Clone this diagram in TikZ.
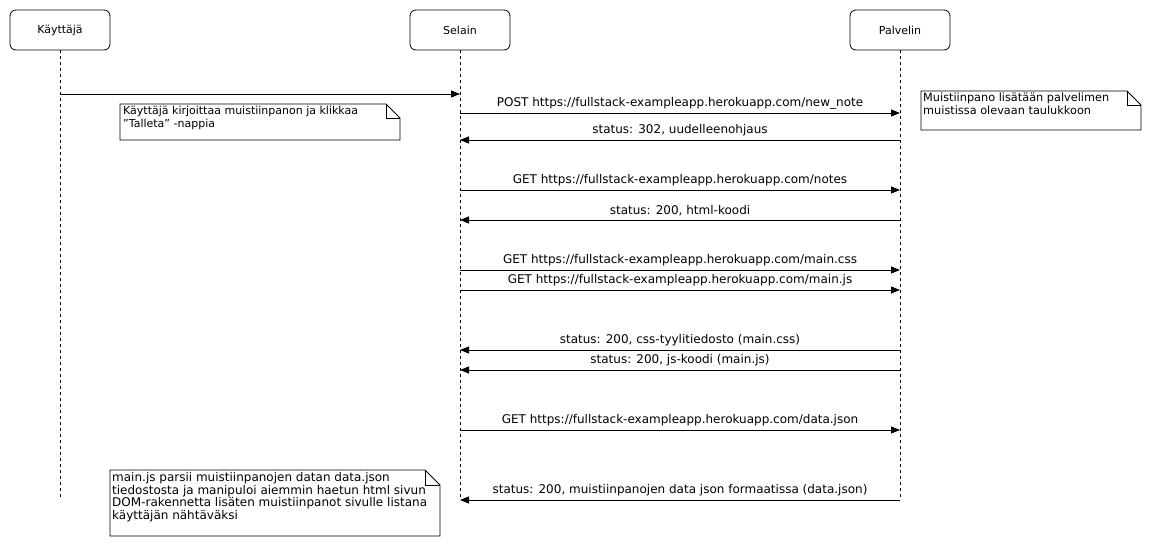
\documentclass[tikz,border=0pt]{standalone}
\usepackage{fontspec}
\setmainfont{DejaVu Sans}
\usetikzlibrary{arrows.meta}
\begin{document}
\begin{tikzpicture}[x=1pt,y=-1pt,
  txt/.style={font=\fontsize{12}{13}\selectfont},
  actor/.style={draw, rounded corners=6pt, minimum width=100pt, minimum height=40pt, line width=0.8pt, font=\fontsize{11}{13}\selectfont},
  lifeline/.style={line width=0.8pt, dash pattern=on 3pt off 3pt},
  msg/.style={line width=0.8pt, -{Triangle[length=9pt,width=7pt]}},
  lbl/.style={txt, anchor=south, inner sep=0pt, yshift=3.5pt},
  notebox/.style={draw, line width=0.8pt, fill=white},
  notetext/.style={align=left, anchor=north west, inner sep=0pt}
]
\useasboundingbox (0,0) rectangle (1151,546);

% actors
\node[actor] (kay) at (60,30) {Käyttäjä};
\node[actor] (sel) at (460,30) {Selain};
\node[actor] (pal) at (900,30) {Palvelin};

\coordinate (kayEnd) at (60,497);
\coordinate (selEnd) at (460,500);
\coordinate (palEnd) at (900,500);
\draw[lifeline] (kay.south) -- (kayEnd);
\draw[lifeline] (sel.south) -- (selEnd);
\draw[lifeline] (pal.south) -- (palEnd);

% message anchor points
\foreach \n/\y in {1/94,2/113,3/140,4/190,5/220,6/270,7/290,8/350,9/370,10/430,11/500}{
  \coordinate (k\n) at (60,\y);
  \coordinate (s\n) at (460,\y);
  \coordinate (p\n) at (900,\y);
}

% messages
\draw[msg] (k1) -- (s1);
\draw[msg] (s2) -- node[lbl]{POST https://fullstack-exampleapp.herokuapp.com/new\_note} (p2);
\draw[msg] (p3) -- node[lbl]{status: 302, uudelleenohjaus} (s3);
\draw[msg] (s4) -- node[lbl]{GET https://fullstack-exampleapp.herokuapp.com/notes} (p4);
\draw[msg] (p5) -- node[lbl]{status: 200, html-koodi} (s5);
\draw[msg] (s6) -- node[lbl]{GET https://fullstack-exampleapp.herokuapp.com/main.css} (p6);
\draw[msg] (s7) -- node[lbl]{GET https://fullstack-exampleapp.herokuapp.com/main.js} (p7);
\draw[msg] (p8) -- node[lbl]{status: 200, css-tyylitiedosto (main.css)} (s8);
\draw[msg] (p9) -- node[lbl]{status: 200, js-koodi (main.js)} (s9);
\draw[msg] (s10) -- node[lbl]{GET https://fullstack-exampleapp.herokuapp.com/data.json} (p10);
\draw[msg] (p11) -- node[lbl]{status: 200, muistiinpanojen data json formaatissa (data.json)} (s11);

% notes
% note 1
\draw[notebox] (120,104) -- (386,104) -- (400,118) -- (400,140) -- (120,140) -- cycle;
\draw[line width=0.8pt] (386,104) -- (386,118) -- (400,118);
\node[notetext, font=\fontsize{11}{13}\selectfont] (n1) at (123,106) {Käyttäjä kirjoittaa muistiinpanon ja klikkaa\\"Talleta" -nappia};
% note 2
\draw[notebox] (921,91) -- (1127,91) -- (1141,105) -- (1141,130) -- (921,130) -- cycle;
\draw[line width=0.8pt] (1127,91) -- (1127,105) -- (1141,105);
\node[notetext, font=\fontsize{11.3}{13}\selectfont] (n2) at (923,93) {Muistiinpano lisätään palvelimen\\muistissa olevaan taulukkoon};
% note 3
\draw[notebox] (110,470) -- (425,470) -- (440,485) -- (440,536) -- (110,536) -- cycle;
\draw[line width=0.8pt] (425,470) -- (425,485) -- (440,485);
\node[notetext, font=\fontsize{12}{12.8}\selectfont] (n3) at (112,472) {main.js parsii muistiinpanojen datan data.json\\tiedostosta ja manipuloi aiemmin haetun html sivun\\DOM-rakennetta lisäten muistiinpanot sivulle listana\\käyttäjän nähtäväksi};
\end{tikzpicture}
\end{document}
